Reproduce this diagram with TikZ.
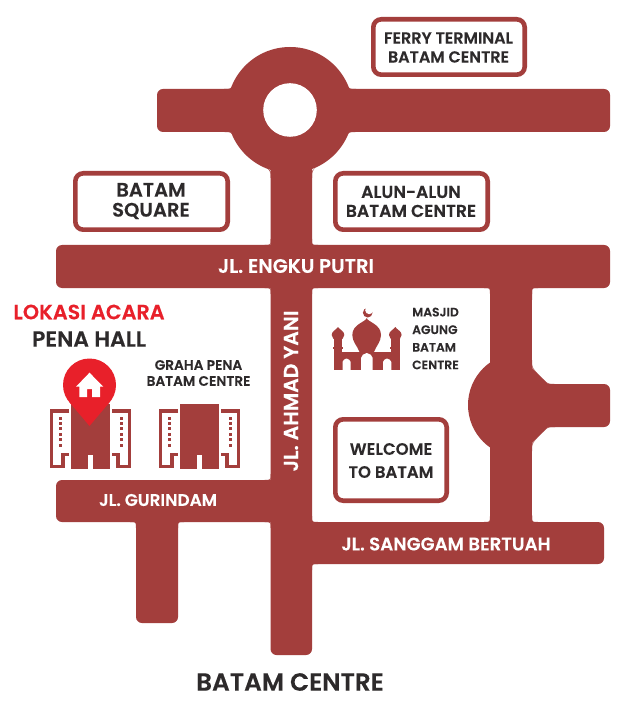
\documentclass[tikz,border=0pt]{standalone}
\usepackage{fontspec}
\setmainfont{Poppins SemiBold}[FakeBold=0.15]
\definecolor{road}{HTML}{A33E3C}
\definecolor{ink}{HTML}{2D2A2B}
\definecolor{pinred}{HTML}{E8202A}
\newcommand{\fil}[6]{\fill[road] (#1,#2) .. controls (#3,#4) .. (#5,#6) -- (#3,#4) -- cycle;}
\newcommand{\corner}[4]{\fil{#1+#3*6}{#2}{#1}{#2}{#1}{#2+#4*6}}
\newcommand{\wing}[1]{% outline and windows of a side wing, #1 = building centre
  \foreach \s in {-1,1}{
    \draw[road,line width=3.2pt,line join=miter] ({#1+\s*21.5},411) -- ({#1+\s*39},411) -- ({#1+\s*39},466.7) -- ({#1+\s*27.5},466.7) -- ({#1+\s*27.5},454.5) -- ({#1+\s*21.5},454.5);
    \foreach \k in {0,...,5}{\fill[road] ({#1+\s*30.5-1.5},{416.5+\k*5.4}) rectangle ++(3,3);}
  }
  \fill[road] ({#1-19.5},404) rectangle ({#1+19.5},468.5);
  \fill[white] ({#1-2.5},455) rectangle ({#1+2.5},469);
}
\tikzset{
  roadbar/.style={fill=road,rounded corners=6pt},
  signbox/.style={draw=road,line width=4.6pt,fill=white,rounded corners=8pt,inner sep=0pt},
  sign/.style={text=ink,align=center,inner sep=0pt,font=\fontsize{16}{19}\selectfont},
  roadname/.style={text=white,inner sep=0pt},
  place/.style={text=ink,inner sep=0pt,align=center}
}
\begin{document}
\begin{tikzpicture}[x=1pt,y=-1pt]
\useasboundingbox (0,0) rectangle (625,708);
\fill[white] (0,0) rectangle (625,708);
% roads
\path[roadbar] (157,89) rectangle (610,132);
\fill[road] (290,110) circle[radius=63];
\path[roadbar] (270.5,110) rectangle (312,270);
\path[roadbar] (56,245) rectangle (610,288);
\path[roadbar] (270.5,260) rectangle (312,655);
\path[roadbar] (56,480) rectangle (300,522);
\path[roadbar] (136,500) rectangle (178,623);
\path[roadbar] (280,522) rectangle (604,564);
\path[roadbar] (490,270) rectangle (532,540);
% right junction
\fill[road] (520,405) circle[radius=52];
\fill[white] (532,340) rectangle (580,384);
\fill[white] (532,427) rectangle (580,470);
\fill[road] (510,360) -- (532,368) -- (548,384) -- (548,427) -- (532,443) -- (510,450) -- cycle;
\path[roadbar] (530,384) rectangle (610,427);
\fill[white] (532,300) rectangle (572,366);
\fill[white] (532,445) rectangle (572,515);
% fillets
\fil{224}{89}{231}{89}{234}{83}
\fil{356}{89}{349}{89}{346}{83}
\fil{224}{132}{231}{132}{234}{137}
\fil{356}{132}{349}{132}{346}{137}
\fil{264}{165}{270.5}{171}{270.5}{178}
\fil{318}{165}{312}{171}{312}{178}
\corner{270.5}{245}{-1}{-1}
\corner{312}{245}{1}{-1}
\corner{270.5}{288}{-1}{1}
\corner{312}{288}{1}{1}
\corner{490}{288}{-1}{1}
\corner{532}{288}{1}{1}
\corner{270.5}{480}{-1}{-1}
\corner{270.5}{522}{-1}{1}
\corner{136}{522}{-1}{1}
\corner{178}{522}{1}{1}
\corner{312}{522}{1}{-1}
\corner{490}{522}{-1}{-1}
\corner{532}{522}{1}{-1}
\corner{312}{564}{1}{1}
\fil{484}{375}{490}{370}{490}{362}
\fil{484}{435}{490}{441}{490}{449}
\fil{532}{360}{532}{367}{537}{373}
\fil{532}{451}{532}{444}{537}{438}
\fil{543}{379}{548}{384}{555}{384}
\fil{543}{432}{548}{427}{555}{427}
\fill[white] (290,110) circle[radius=26.8];
% sign boxes
\node[signbox] (ferrybox) at (449,47) {\rule{0pt}{55.4pt}\rule{151.4pt}{0pt}};
\node[signbox] (squarebox) at (151.5,201.5) {\rule{0pt}{56.4pt}\rule{152.4pt}{0pt}};
\node[signbox] (alunbox) at (411.5,201.5) {\rule{0pt}{56.4pt}\rule{152.4pt}{0pt}};
\node[signbox] (welcomebox) at (391,460) {\rule{0pt}{81.4pt}\rule{111.4pt}{0pt}};
\node[sign] (ferry) at (448.5,47.5) {FERRY TERMINAL\\BATAM CENTRE};
\node[sign,font=\fontsize{19.5}{20}\selectfont] (square) at (151,201) {BATAM\\SQUARE};
\node[sign,font=\fontsize{17.2}{19}\selectfont] (alun) at (411,201.5) {ALUN-ALUN\\BATAM CENTRE};
\node[sign,font=\fontsize{16.5}{23}\selectfont] (welcome) at (391,460.5) {WELCOME\\TO BATAM};
% road names
\node[roadname,font=\fontsize{19.6}{22}\selectfont] (engku) at (296,266) {JL. ENGKU PUTRI};
\node[roadname,rotate=90,font=\fontsize{20.4}{24}\selectfont] (yani) at (291,391) {JL. AHMAD YANI};
\node[roadname,font=\fontsize{16.9}{20}\selectfont] (gurindam) at (158,500) {JL. GURINDAM};
\node[roadname,font=\fontsize{18.2}{20}\selectfont] (sanggam) at (446,544) {JL. SANGGAM BERTUAH};
\node[place,font=\fontsize{24.8}{28}\selectfont] (area) at (290,682) {BATAM CENTRE};
\node[text=pinred,inner sep=0pt,font=\fontsize{20.7}{24}\selectfont] (lokasi) at (89,312) {LOKASI ACARA};
\node[place,font=\fontsize{22}{26}\selectfont] (pena) at (89,339) {PENA HALL};
\node[place,font=\fontsize{13.7}{16}\selectfont] (graha) at (198.5,373) {GRAHA PENA\\BATAM CENTRE};
\node[place,align=left,anchor=west,font=\fontsize{12.3}{17.6}\selectfont] (masjid) at (412,338.5) {MASJID\\AGUNG\\BATAM\\CENTRE};
% buildings
\wing{90.5}
\wing{199.5}
% pin
\fill[pinred] (89.5,385) circle[radius=26.5];
\fill[pinred] (69.3,402.1) -- (89.5,426) -- (109.7,402.1) -- cycle;
\fill[white] (89.5,372.7) -- (103.3,386.7) -- (100,386.7) -- (100,397) -- (92,397) -- (92,389) -- (87,389) -- (87,397) -- (79.3,397) -- (79.3,386.7) -- (76,386.7) -- cycle;
% mosque
\fill[road] (334,351.7) rectangle (399.3,370);
\foreach \c in {338,395.3}{
  \fill[road] (\c-4.2,338) rectangle (\c+4.2,370);
  \fill[road] (\c-5,347) rectangle (\c+5,349);
  \fill[road] (\c,327) .. controls (\c+2,330) and (\c+6.3,331) .. (\c+6.3,335) .. controls (\c+6.3,338) and (\c+4,340) .. (\c,340.5) .. controls (\c-4,340) and (\c-6.3,338) .. (\c-6.3,335) .. controls (\c-6.3,331) and (\c-2,330) .. (\c,327) -- cycle;
}
\fill[road] (366.7,318) .. controls (367.5,322) and (381,324) .. (381,335) .. controls (381,342) and (376,346) .. (374,352) -- (359.5,352) .. controls (357.5,346) and (352.3,342) .. (352.3,335) .. controls (352.3,324) and (365.9,322) .. (366.7,318) -- cycle;
\fill[white] (342.5,370.5) -- (342.5,362) .. controls (342.5,360) and (345,359) .. (346.5,358.5) .. controls (348,359) and (350.7,360) .. (350.7,362) -- (350.7,370.5) -- cycle;
\fill[white] (383,370.5) -- (383,362) .. controls (383,360) and (385.5,359) .. (387,358.5) .. controls (388.5,359) and (391.3,360) .. (391.3,362) -- (391.3,370.5) -- cycle;
\fill[white] (361,370.5) -- (361,358) .. controls (361,355) and (364,354) .. (366.8,353) .. controls (369.5,354) and (372.7,355) .. (372.7,358) -- (372.7,370.5) -- cycle;
\fill[road] (367.7,312.7) circle[radius=4.8];
\fill[white] (369.2,310.2) circle[radius=4];
\end{tikzpicture}
\end{document}
